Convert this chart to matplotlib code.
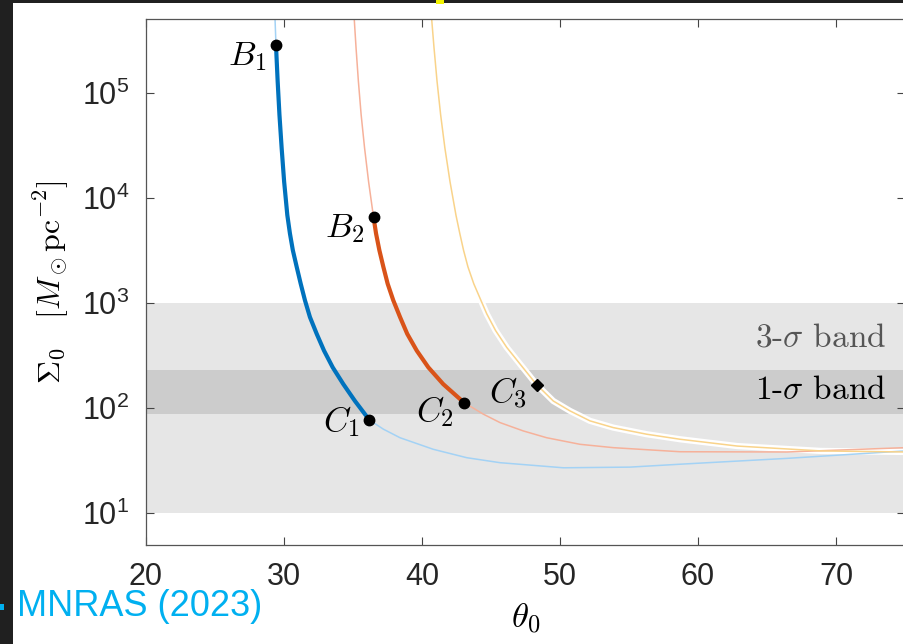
import matplotlib
matplotlib.use("Agg")
import matplotlib.pyplot as plt
from matplotlib.patches import Rectangle
from matplotlib.ticker import NullLocator

# curve 1 (blue)
theta_1 = [29.35, 29.42, 29.54, 29.67, 29.83, 30.01, 30.24, 30.43, 30.64, 30.92,
           31.21, 31.52, 31.88, 32.37, 32.90, 33.53, 34.30, 35.14, 36.18,
           37.20, 38.41, 40.82, 43.24, 45.65, 50.24, 55.07, 58.70, 66.45, 75.0]
sigma_1 = [5.0e5, 2.81e5, 1.28e5, 6.15e4, 2.96e4, 1.42e4, 6840, 4570, 3170, 2200,
           1524, 1057, 733, 508, 352, 244, 169, 117, 77.3,
           63.1, 52.3, 40.6, 33.8, 30.3, 27.1, 27.5, 29.3, 33.3, 39.2]

# curve 2 (orange)
theta_2 = [35.09, 35.22, 35.39, 35.59, 35.84, 36.13, 36.49, 36.67, 36.91, 37.20,
           37.51, 37.92, 38.41, 38.93, 39.62, 40.46, 41.54, 43.04, 44.44,
           45.65, 47.34, 49.04, 51.45, 53.86, 58.70, 66.45, 75.0]
sigma_2 = [5.0e5, 2.67e5, 1.28e5, 6.15e4, 2.96e4, 1.42e4, 6500, 4570, 3170, 2200,
           1524, 1057, 733, 508, 352, 244, 169, 113, 87.7,
           72.9, 60.7, 52.3, 45.3, 42.1, 38.5, 38.3, 42.1]

# curve 3 (yellow)
theta_3 = [40.70, 40.87, 41.09, 41.35, 41.66, 42.03, 42.46, 42.74, 43.01, 43.33,
           43.75, 44.17, 44.69, 45.33, 46.14, 47.10, 48.31, 49.51, 50.72,
           52.17, 53.86, 56.28, 58.70, 62.85, 68.89, 75.0]
sigma_3 = [5.0e5, 2.67e5, 1.28e5, 6.15e4, 2.96e4, 1.42e4, 6840, 4570, 3170, 2200,
           1524, 1135, 789, 547, 378, 263, 167, 117, 94.2,
           75.7, 65.3, 56.5, 50.6, 43.6, 39.2, 38.3]

# marked points
B1 = (29.42, 2.81e5)
C1 = (36.18, 77.3)
B2 = (36.49, 6500)
C2 = (43.04, 113)
C3 = (48.31, 167)

# bands
band_3sigma = (10, 1000)
band_1sigma = (88, 230)

plt.rcParams["font.family"] = ["Liberation Sans", "DejaVu Sans"]

fig = plt.figure(figsize=(9.04, 6.44), dpi=100)
ax = fig.add_axes([146 / 904, 99 / 644, 759 / 904, 526 / 644])

ax.axhspan(*band_3sigma, color="#e6e6e6", lw=0, zorder=0)
ax.axhspan(*band_1sigma, color="#cccccc", lw=0, zorder=0.5)

# thin full curves
ax.plot(theta_3, sigma_3, color="white", lw=4.5, zorder=1)
ax.plot(theta_1, sigma_1, color="#a3d2f5", lw=1.1, zorder=2)
ax.plot(theta_2, sigma_2, color="#f6b19a", lw=1.1, zorder=2)
ax.plot(theta_3, sigma_3, color="#f9d38a", lw=1.1, zorder=2)

# thick segments between B and C
def segment(th, sg, b, c):
    xs = [t for t in th if b[0] <= t <= c[0]]
    ys = [s for t, s in zip(th, sg) if b[0] <= t <= c[0]]
    return xs, ys

x1, y1 = segment(theta_1, sigma_1, B1, C1)
x2, y2 = segment(theta_2, sigma_2, B2, C2)
ax.plot(x1, y1, color="#0072BD", lw=3.0, zorder=3)
ax.plot(x2, y2, color="#D95319", lw=3.0, zorder=3)

for p in [B1, C1, B2, C2]:
    ax.plot(*p, "o", color="black", ms=7.5, zorder=4)
ax.plot(*C3, "D", color="black", ms=6.5, zorder=4)

lab_kw = dict(textcoords="offset points", ha="right", va="baseline",
              fontsize=25, math_fontfamily="cm", zorder=5)
ax.annotate(r"$B_1$", B1, xytext=(-7, -14), **lab_kw)
ax.annotate(r"$B_2$", B2, xytext=(-7, -14), **lab_kw)
ax.annotate(r"$C_1$", C1, xytext=(-7, -8), **lab_kw)
ax.annotate(r"$C_2$", C2, xytext=(-7, -13), **lab_kw)
ax.annotate(r"$C_3$", C3, xytext=(-7, -13), **lab_kw)

ax.text(0.9755, 0.377, r"3-$\sigma$ band", transform=ax.transAxes, ha="right",
        va="baseline", fontsize=24, family="cmr10", math_fontfamily="cm",
        color="#555555")
ax.text(0.9755, 0.277, r"1-$\sigma$ band", transform=ax.transAxes, ha="right",
        va="baseline", fontsize=24, family="cmr10", math_fontfamily="cm",
        color="black")

ax.set_yscale("log")
ax.set_xlim(20, 75)
ax.set_ylim(5, 5e5)
ax.set_xticks([20, 30, 40, 50, 60, 70])
ax.set_yticks([1e1, 1e2, 1e3, 1e4, 1e5])
ax.yaxis.set_minor_locator(NullLocator())
ax.tick_params(direction="in", length=6, width=0.8, color="#444444",
               top=True, right=True, labelsize=22, labelcolor="#262626")
ax.tick_params(axis="x", pad=12)
ax.tick_params(axis="y", pad=12)
for s in ax.spines.values():
    s.set_color("#555555")
    s.set_linewidth(0.9)

ax.text(0.5, -0.139, r"$\theta_0$", transform=ax.transAxes, ha="center",
        va="center", fontsize=25, math_fontfamily="cm")
ax.text(-0.1254, 0.5, r"$\Sigma_0\quad[M_\odot\mathrm{pc}^{-2}]$",
        transform=ax.transAxes, ha="center", va="center", rotation=90,
        fontsize=23, math_fontfamily="cm")

# screenshot frame and overlay text
fig.add_artist(Rectangle((0, 1 - 3 / 644), 1, 3 / 644, transform=fig.transFigure,
                         color="#202020", lw=0, zorder=10))
fig.add_artist(Rectangle((0, 0), 13 / 904, 1, transform=fig.transFigure,
                         color="#202020", lw=0, zorder=10))
fig.add_artist(Rectangle((436 / 904, 1 - 4 / 644), 8 / 904, 4 / 644,
                         transform=fig.transFigure, color="#f2f200", lw=0, zorder=11))
fig.add_artist(Rectangle((0, 1 - 610 / 644), 4 / 904, 6 / 644,
                         transform=fig.transFigure, color="#00b0f0", lw=0, zorder=11))
fig.text(17 / 904, 1 - 616 / 644, "MNRAS (2023)", color="#00b0f0", fontsize=26,
         family="Liberation Sans", ha="left", va="baseline", zorder=12)

fig.savefig("out.png", dpi=100)
